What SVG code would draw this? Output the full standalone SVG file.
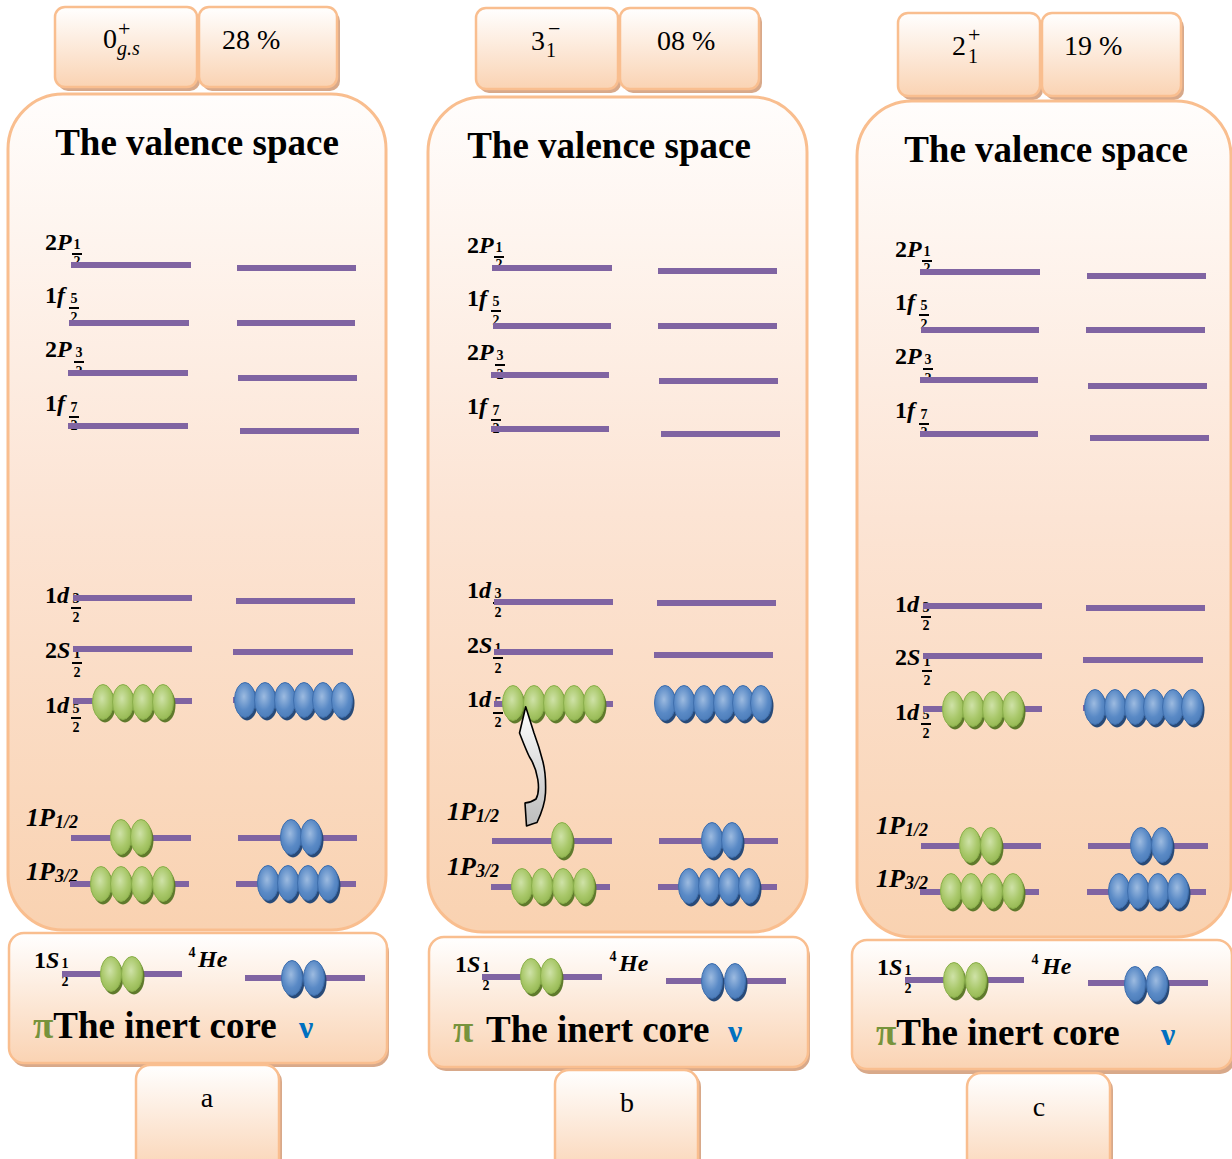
<svg xmlns="http://www.w3.org/2000/svg" width="1232" height="1159" viewBox="0 0 1232 1159">
<defs>
  <linearGradient id="peach" x1="0" y1="0" x2="0" y2="1">
    <stop offset="0" stop-color="#ffffff"/>
    <stop offset="1" stop-color="#fad3b3"/>
  </linearGradient>
  <linearGradient id="peachMain" x1="0" y1="0" x2="0" y2="1">
    <stop offset="0" stop-color="#fffdfc"/>
    <stop offset="0.5" stop-color="#fce4d4"/>
    <stop offset="1" stop-color="#f9d2b1"/>
  </linearGradient>
  <radialGradient id="gGreen" cx="0.45" cy="0.4" r="0.65">
    <stop offset="0" stop-color="#cfe2a8"/>
    <stop offset="0.6" stop-color="#a9c86a"/>
    <stop offset="1" stop-color="#93b651"/>
  </radialGradient>
  <radialGradient id="gBlue" cx="0.45" cy="0.4" r="0.65">
    <stop offset="0" stop-color="#9dbbe0"/>
    <stop offset="0.6" stop-color="#5a8ac6"/>
    <stop offset="1" stop-color="#4a7bb8"/>
  </radialGradient>
  <linearGradient id="arrowFill" x1="0" y1="1" x2="0" y2="0">
    <stop offset="0" stop-color="#bcbcbc"/>
    <stop offset="1" stop-color="#ffffff"/>
  </linearGradient>
  <!-- proton (green) and neutron (blue) particles -->
  <g id="pg">
    <ellipse cx="2" cy="3" rx="10.5" ry="17.5" fill="#5f7a2c"/>
    <ellipse cx="0" cy="0" rx="10.5" ry="17.5" fill="url(#gGreen)" stroke="#8bb04c" stroke-width="1"/>
  </g>
  <g id="nb">
    <ellipse cx="2" cy="3" rx="10.5" ry="17.5" fill="#284a78"/>
    <ellipse cx="0" cy="0" rx="10.5" ry="17.5" fill="url(#gBlue)" stroke="#3f6fae" stroke-width="1"/>
  </g>
</defs>
<style>
  .box { fill: url(#peach); stroke: #f9be8f; stroke-width: 2.5; }
  .main { fill: url(#peachMain); stroke: #f9be8f; stroke-width: 3; }
  .shadow { fill: #d8a98a; }
  .lv { stroke: #8064a2; stroke-width: 6; }
  .bar { stroke: #000; stroke-width: 2; }
  text { font-family: "Liberation Serif", "Times New Roman", serif; fill: #000; }
  .lbl { font-size: 24px; font-weight: bold; }
  .i { font-style: italic; }
  .fr { font-size: 14px; font-weight: bold; text-anchor: middle; }
  .lp { font-size: 26px; font-weight: bold; font-style: italic; }
  .title { font-size: 37px; font-weight: bold; text-anchor: middle; }
  .core { font-size: 37px; font-weight: bold; }
  .pi { fill: #77933c; }
  .nu { fill: #0070c0; font-size: 32px; }
  .top { font-size: 28px; }
  .sup { font-size: 22px; }
  .sub { font-size: 20px; }
  .tag { font-size: 28px; text-anchor: middle; }
</style>

<!-- ===== Panel a ===== -->
<g id="panel-a-state">
  <rect class="shadow" x="58" y="11" width="142" height="80" rx="10"/>
  <rect class="box" x="55" y="7" width="142" height="80" rx="10"/>
  <text class="top" x="103" y="48">0<tspan class="sup" x="118" y="36">+</tspan><tspan class="sub i" x="117" y="55">g.s</tspan></text>
</g>
<g id="panel-a-percent">
  <rect class="shadow" x="202" y="11" width="138" height="80" rx="10"/>
  <rect class="box" x="199" y="7" width="138" height="80" rx="10"/>
  <text class="top" x="222" y="49">28 %</text>
</g>
<g id="panel-a-valence">
  <rect class="main" x="8" y="94" width="378" height="836" rx="55"/>
  <text class="title" x="197" y="155">The valence space</text>
  <!-- orbital labels -->
  <text class="lbl" x="45" y="250">2<tspan class="i">P</tspan></text>
  <text class="fr" x="77" y="249">1</text><path class="bar" d="M72 254h10"/><text class="fr" x="77" y="266">2</text>
  <text class="lbl" x="45" y="303">1<tspan class="i">f</tspan></text>
  <text class="fr" x="74" y="303">5</text><path class="bar" d="M69 308h10"/><text class="fr" x="74" y="322">2</text>
  <text class="lbl" x="45" y="357">2<tspan class="i">P</tspan></text>
  <text class="fr" x="79" y="357">3</text><path class="bar" d="M74 362h10"/><text class="fr" x="79" y="376">2</text>
  <text class="lbl" x="45" y="411">1<tspan class="i">f</tspan></text>
  <text class="fr" x="74" y="412">7</text><path class="bar" d="M69 417h10"/><text class="fr" x="74" y="430">2</text>
  <text class="lbl" x="45" y="603">1<tspan class="i">d</tspan></text>
  <text class="fr" x="76" y="603">3</text><path class="bar" d="M71 608h10"/><text class="fr" x="76" y="622">2</text>
  <text class="lbl" x="45" y="658">2<tspan class="i">S</tspan></text>
  <text class="fr" x="77" y="658">1</text><path class="bar" d="M72 663h10"/><text class="fr" x="77" y="677">2</text>
  <text class="lbl" x="45" y="713">1<tspan class="i">d</tspan></text>
  <text class="fr" x="76" y="713">5</text><path class="bar" d="M71 718h10"/><text class="fr" x="76" y="732">2</text>
  <text class="lp" x="26" y="826">1P<tspan font-size="18" dy="2">1/2</tspan></text>
  <text class="lp" x="26" y="880">1P<tspan font-size="18" dy="2">3/2</tspan></text>
  <!-- levels -->
  <path class="lv" d="M71 265H191M237 268H356M69 323H189M237 323H355M68 373H188M238 378H357M68 426H188M240 431H359M73 598H192M236 601H355M73 649H192M233 652H353M73 701H192M233 700H353M71 838H191M238 838H357M70 884H189M236 884H356"/>
  <!-- occupancy -->
  <use href="#pg" x="103" y="702"/><use href="#pg" x="123" y="702"/><use href="#pg" x="143" y="702"/><use href="#pg" x="163" y="702"/>
  <use href="#nb" x="245" y="700"/><use href="#nb" x="265" y="700"/><use href="#nb" x="285" y="700"/><use href="#nb" x="304" y="700"/><use href="#nb" x="323" y="700"/><use href="#nb" x="342" y="700"/>
  <use href="#pg" x="121" y="837"/><use href="#pg" x="141" y="837"/>
  <use href="#nb" x="291" y="837"/><use href="#nb" x="311" y="837"/>
  <use href="#pg" x="101" y="884"/><use href="#pg" x="121" y="884"/><use href="#pg" x="142" y="884"/><use href="#pg" x="163" y="884"/>
  <use href="#nb" x="268" y="883"/><use href="#nb" x="288" y="883"/><use href="#nb" x="308" y="883"/><use href="#nb" x="328" y="883"/>
</g>
<g id="panel-a-core">
  <rect class="shadow" x="11" y="937" width="378" height="130" rx="15"/>
  <rect class="box" x="9" y="933" width="378" height="130" rx="15"/>
  <text class="lbl" x="34" y="968">1<tspan class="i">S</tspan></text>
  <text class="fr" x="65" y="968">1</text><text class="fr" x="65" y="986">2</text>
  <text class="fr" x="192" y="957">4</text>
  <text class="lbl i" x="198" y="967">He</text>
  <path class="lv" d="M62 974H182M245 978H365"/>
  <use href="#pg" x="111" y="974"/><use href="#pg" x="132" y="974"/>
  <use href="#nb" x="292" y="978"/><use href="#nb" x="314" y="978"/>
  <text class="core" x="33" y="1038"><tspan class="pi">π</tspan>The inert core</text>
  <text class="core nu" x="299" y="1038">ν</text>
</g>
<g id="panel-a-tag">
  <rect class="shadow" x="139" y="1068" width="143" height="110" rx="14"/>
  <rect class="box" x="136" y="1065" width="143" height="110" rx="14"/>
  <text class="tag" x="207" y="1107">a</text>
</g>

<!-- ===== Panel b ===== -->
<g id="panel-b-state">
  <rect class="shadow" x="479" y="12" width="142" height="81" rx="10"/>
  <rect class="box" x="476" y="8" width="142" height="81" rx="10"/>
  <text class="top" x="531" y="50">3<tspan class="sup" x="548" y="36">−</tspan><tspan class="sub" x="546" y="57">1</tspan></text>
</g>
<g id="panel-b-percent">
  <rect class="shadow" x="623" y="12" width="139" height="81" rx="10"/>
  <rect class="box" x="620" y="8" width="139" height="81" rx="10"/>
  <text class="top" x="657" y="50">08 %</text>
</g>
<g id="panel-b-valence">
  <rect class="main" x="428" y="97" width="379" height="835" rx="55"/>
  <text class="title" x="609" y="158">The valence space</text>
  <text class="lbl" x="467" y="253">2<tspan class="i">P</tspan></text>
  <text class="fr" x="499" y="252">1</text><path class="bar" d="M494 257h10"/><text class="fr" x="499" y="269">2</text>
  <text class="lbl" x="467" y="306">1<tspan class="i">f</tspan></text>
  <text class="fr" x="496" y="306">5</text><path class="bar" d="M491 311h10"/><text class="fr" x="496" y="325">2</text>
  <text class="lbl" x="467" y="360">2<tspan class="i">P</tspan></text>
  <text class="fr" x="500" y="360">3</text><path class="bar" d="M495 365h10"/><text class="fr" x="500" y="379">2</text>
  <text class="lbl" x="467" y="414">1<tspan class="i">f</tspan></text>
  <text class="fr" x="496" y="415">7</text><path class="bar" d="M491 420h10"/><text class="fr" x="496" y="433">2</text>
  <text class="lbl" x="467" y="598">1<tspan class="i">d</tspan></text>
  <text class="fr" x="498" y="598">3</text><path class="bar" d="M493 603h10"/><text class="fr" x="498" y="617">2</text>
  <text class="lbl" x="467" y="653">2<tspan class="i">S</tspan></text>
  <text class="fr" x="498" y="653">1</text><path class="bar" d="M493 658h10"/><text class="fr" x="498" y="673">2</text>
  <text class="lbl" x="467" y="707">1<tspan class="i">d</tspan></text>
  <text class="fr" x="498" y="707">5</text><path class="bar" d="M493 713h10"/><text class="fr" x="498" y="727">2</text>
  <text class="lp" x="447" y="820">1P<tspan font-size="18" dy="2">1/2</tspan></text>
  <text class="lp" x="447" y="875">1P<tspan font-size="18" dy="2">3/2</tspan></text>
  <path class="lv" d="M492 268H612M658 271H777M493 326H611M658 326H777M491 375H609M659 381H778M491 429H609M661 434H780M494 602H613M657 603H776M494 652H613M654 655H773M494 704H613M657 704H773M492 841H612M659 841H778M491 887H610M658 887H777"/>
  <use href="#pg" x="513" y="703"/><use href="#pg" x="534" y="703"/><use href="#pg" x="554" y="703"/><use href="#pg" x="574" y="703"/><use href="#pg" x="594" y="703"/>
  <use href="#nb" x="665" y="703"/><use href="#nb" x="684" y="703"/><use href="#nb" x="704" y="703"/><use href="#nb" x="724" y="703"/><use href="#nb" x="743" y="703"/><use href="#nb" x="761" y="703"/>
  <use href="#pg" x="562" y="840"/>
  <use href="#nb" x="712" y="840"/><use href="#nb" x="732" y="840"/>
  <use href="#pg" x="522" y="886"/><use href="#pg" x="542" y="886"/><use href="#pg" x="563" y="886"/><use href="#pg" x="584" y="886"/>
  <use href="#nb" x="689" y="886"/><use href="#nb" x="709" y="886"/><use href="#nb" x="729" y="886"/><use href="#nb" x="749" y="886"/>
</g>
<g id="connectors">
  <!-- excitation arrow: 1P1/2 proton lifted into 1d5/2 -->
  <path d="M525.7 706.7 L519.5 733 C523 742 526 750 529.5 757 C538 770 541 790 536 799 C532 802 528 802.5 525 803 L526.5 826 C532 824 535 823 537 822.5 C541 814 545 804 545.5 793 C546 780 545 770 543 762 C540 750 537 741 534 733 Z" fill="url(#arrowFill)" stroke="#000" stroke-width="1.6" stroke-linejoin="round"/>
</g>
<g id="panel-b-core">
  <rect class="shadow" x="431" y="941" width="379" height="130" rx="15"/>
  <rect class="box" x="429" y="937" width="379" height="130" rx="15"/>
  <text class="lbl" x="455" y="972">1<tspan class="i">S</tspan></text>
  <text class="fr" x="486" y="972">1</text><text class="fr" x="486" y="990">2</text>
  <text class="fr" x="613" y="961">4</text>
  <text class="lbl i" x="619" y="971">He</text>
  <path class="lv" d="M482 977H602M666 981H786"/>
  <use href="#pg" x="531" y="976"/><use href="#pg" x="551" y="976"/>
  <use href="#nb" x="712" y="981"/><use href="#nb" x="735" y="981"/>
  <text class="core pi" x="453" y="1042">π</text>
  <text class="core" x="486" y="1042">The inert core</text>
  <text class="core nu" x="728" y="1042">ν</text>
</g>
<g id="panel-b-tag">
  <rect class="shadow" x="558" y="1073" width="143" height="110" rx="14"/>
  <rect class="box" x="555" y="1070" width="143" height="110" rx="14"/>
  <text class="tag" x="627" y="1112">b</text>
</g>

<!-- ===== Panel c ===== -->
<g id="panel-c-state">
  <rect class="shadow" x="901" y="17" width="142" height="83" rx="10"/>
  <rect class="box" x="898" y="13" width="142" height="83" rx="10"/>
  <text class="top" x="952" y="55">2<tspan class="sup" x="968" y="42">+</tspan><tspan class="sub" x="968" y="63">1</tspan></text>
</g>
<g id="panel-c-percent">
  <rect class="shadow" x="1045" y="17" width="139" height="83" rx="10"/>
  <rect class="box" x="1042" y="13" width="139" height="83" rx="10"/>
  <text class="top" x="1064" y="55">19 %</text>
</g>
<g id="panel-c-valence">
  <rect class="main" x="857" y="101" width="374" height="836" rx="55"/>
  <text class="title" x="1046" y="162">The valence space</text>
  <text class="lbl" x="895" y="257">2<tspan class="i">P</tspan></text>
  <text class="fr" x="927" y="256">1</text><path class="bar" d="M922 261h10"/><text class="fr" x="927" y="273">2</text>
  <text class="lbl" x="895" y="310">1<tspan class="i">f</tspan></text>
  <text class="fr" x="924" y="310">5</text><path class="bar" d="M919 315h10"/><text class="fr" x="924" y="329">2</text>
  <text class="lbl" x="895" y="364">2<tspan class="i">P</tspan></text>
  <text class="fr" x="928" y="364">3</text><path class="bar" d="M923 369h10"/><text class="fr" x="928" y="383">2</text>
  <text class="lbl" x="895" y="418">1<tspan class="i">f</tspan></text>
  <text class="fr" x="924" y="419">7</text><path class="bar" d="M919 424h10"/><text class="fr" x="924" y="437">2</text>
  <text class="lbl" x="895" y="612">1<tspan class="i">d</tspan></text>
  <text class="fr" x="926" y="612">3</text><path class="bar" d="M921 617h10"/><text class="fr" x="926" y="630">2</text>
  <text class="lbl" x="895" y="665">2<tspan class="i">S</tspan></text>
  <text class="fr" x="927" y="666">1</text><path class="bar" d="M922 671h10"/><text class="fr" x="927" y="685">2</text>
  <text class="lbl" x="895" y="720">1<tspan class="i">d</tspan></text>
  <text class="fr" x="926" y="719">5</text><path class="bar" d="M921 724h10"/><text class="fr" x="926" y="738">2</text>
  <text class="lp" x="876" y="834">1P<tspan font-size="18" dy="2">1/2</tspan></text>
  <text class="lp" x="876" y="887">1P<tspan font-size="18" dy="2">3/2</tspan></text>
  <path class="lv" d="M920 272H1040M1087 276H1206M921 330H1039M1086 330H1205M920 380H1038M1088 386H1207M920 434H1038M1090 438H1209M923 606H1042M1086 608H1205M923 656H1042M1083 660H1203M923 709H1042M1083 708H1203M921 846H1041M1088 846H1208M920 892H1039M1087 892H1206"/>
  <use href="#pg" x="953" y="709"/><use href="#pg" x="973" y="709"/><use href="#pg" x="993" y="709"/><use href="#pg" x="1013" y="709"/>
  <use href="#nb" x="1095" y="707"/><use href="#nb" x="1115" y="707"/><use href="#nb" x="1135" y="707"/><use href="#nb" x="1154" y="707"/><use href="#nb" x="1173" y="707"/><use href="#nb" x="1192" y="707"/>
  <use href="#pg" x="970" y="845"/><use href="#pg" x="991" y="845"/>
  <use href="#nb" x="1141" y="845"/><use href="#nb" x="1162" y="845"/>
  <use href="#pg" x="951" y="891"/><use href="#pg" x="971" y="891"/><use href="#pg" x="992" y="891"/><use href="#pg" x="1013" y="891"/>
  <use href="#nb" x="1119" y="891"/><use href="#nb" x="1138" y="891"/><use href="#nb" x="1158" y="891"/><use href="#nb" x="1178" y="891"/>
</g>
<g id="panel-c-core">
  <rect class="shadow" x="854" y="944" width="381" height="130" rx="15"/>
  <rect class="box" x="852" y="940" width="380" height="129" rx="15"/>
  <text class="lbl" x="877" y="975">1<tspan class="i">S</tspan></text>
  <text class="fr" x="908" y="975">1</text><text class="fr" x="908" y="993">2</text>
  <text class="fr" x="1035" y="964">4</text>
  <text class="lbl i" x="1042" y="974">He</text>
  <path class="lv" d="M905 980H1024M1088 983H1208"/>
  <use href="#pg" x="954" y="980"/><use href="#pg" x="976" y="980"/>
  <use href="#nb" x="1135" y="984"/><use href="#nb" x="1157" y="984"/>
  <text class="core" x="876" y="1045"><tspan class="pi">π</tspan>The inert core</text>
  <text class="core nu" x="1161" y="1045">ν</text>
</g>
<g id="panel-c-tag">
  <rect class="shadow" x="970" y="1076" width="143" height="110" rx="14"/>
  <rect class="box" x="967" y="1073" width="143" height="110" rx="14"/>
  <text class="tag" x="1039" y="1116">c</text>
</g>
</svg>
